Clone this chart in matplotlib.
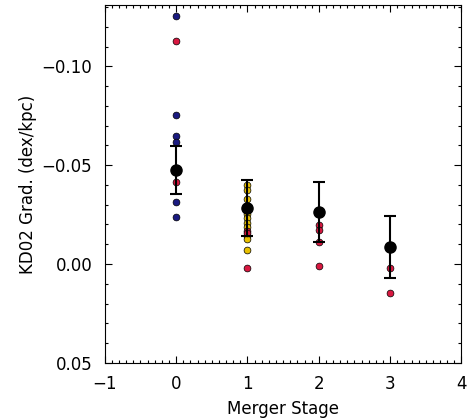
import matplotlib
matplotlib.use('Agg')
import matplotlib.pyplot as plt
from matplotlib.ticker import MultipleLocator, FuncFormatter

# individual galaxies: merger stage, gradient, colour group
stage0_y = [-0.1253, -0.0752, -0.0650, -0.0615, -0.0315, -0.0239]
stage0_red = [-0.1130, -0.0413]

stage1_yellow = [-0.0399, -0.0374, -0.0328, -0.0253, -0.0232, -0.0207,
                 -0.0187, -0.0141, -0.0126, -0.0071]
stage1_red = [-0.0167, -0.0157, 0.0020]

stage2_red = [-0.0197, -0.0172, -0.0113, 0.0008]
stage3_red = [0.0019, 0.0148]

# means and errors
mean_x = [0, 1, 2, 3]
mean_y = [-0.0475, -0.0283, -0.0264, -0.0087]
mean_err = [0.0120, 0.0141, 0.0152, 0.0157]

navy = '#1a1a80'
red = '#d81840'
yellow = '#e8c000'

fig = plt.figure(figsize=(4.68, 4.19), dpi=100)
ax = fig.add_axes([0.224, 0.134, 0.762, 0.853])

kw = dict(s=24, edgecolors='black', linewidths=0.5, zorder=3)
ax.scatter([0] * len(stage0_y), stage0_y, color=navy, **kw)
ax.scatter([0] * len(stage0_red), stage0_red, color=red, **kw)
ax.scatter([1] * len(stage1_yellow), stage1_yellow, color=yellow, **kw)
ax.scatter([1] * len(stage1_red), stage1_red, color=red, **kw)
ax.scatter([2] * len(stage2_red), stage2_red, color=red, **kw)
ax.scatter([3] * len(stage3_red), stage3_red, color=red, **kw)

ax.errorbar(mean_x, mean_y, yerr=mean_err, fmt='o', color='black',
            markersize=8, capsize=4, elinewidth=1.5, capthick=1.5, zorder=4)

ax.set_xlim(-1, 4)
ax.set_ylim(0.05, -0.1308)
ax.xaxis.set_major_locator(MultipleLocator(1))
ax.xaxis.set_minor_locator(MultipleLocator(0.1))
ax.yaxis.set_major_locator(MultipleLocator(0.05))
ax.yaxis.set_minor_locator(MultipleLocator(0.01))
ax.xaxis.set_major_formatter(FuncFormatter(lambda v, p: f'{v:.0f}'.replace('-', '\u2212')))
ax.yaxis.set_major_formatter(FuncFormatter(lambda v, p: f'{v:.2f}'.replace('-', '\u2212')))
ax.tick_params(which='both', direction='in', top=True, right=True,
               labelsize=12, width=0.8)
ax.tick_params(which='major', length=5, pad=9)
ax.tick_params(which='minor', length=2.5)
for s in ax.spines.values():
    s.set_linewidth(0.8)

ax.set_xlabel('Merger Stage', fontsize=12, labelpad=5)
ax.set_ylabel('KD02 Grad. (dex/kpc)', fontsize=12, labelpad=3)

fig.savefig('out.png', dpi=100)
